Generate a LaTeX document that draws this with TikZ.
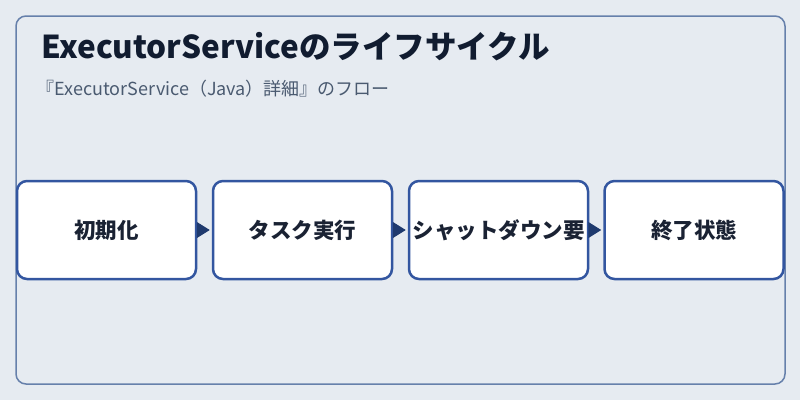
\documentclass[tikz,border=0pt]{standalone}
\usepackage{fontspec}
\setmainfont{Noto Sans CJK JP}
\usetikzlibrary{arrows.meta}
\definecolor{bgc}{HTML}{E6EBF1}
\definecolor{framec}{HTML}{6680AB}
\definecolor{boxc}{HTML}{3356A0}
\definecolor{arrowc}{HTML}{1F3A6E}
\definecolor{titlec}{HTML}{111C30}
\definecolor{subc}{HTML}{4A5A70}
\definecolor{textc}{HTML}{1A2233}
\tikzset{
  stepbox/.style={draw=boxc, line width=2.5pt, fill=white, rounded corners=10pt,
    minimum width=179pt, minimum height=98pt, inner sep=0pt,
    font=\bfseries\fontsize{21.5}{24}\selectfont, text=textc},
  flowarrow/.style={draw=arrowc, line width=1pt, shorten >=2pt,
    -{Triangle[length=13pt,width=16pt]}, arrowc}
}
\begin{document}
\begin{tikzpicture}[x=1pt,y=-1pt]
\fill[bgc] (0,0) rectangle (800,400);
\useasboundingbox (0,0) rectangle (800,400);
\draw[framec, line width=1.5pt, rounded corners=10pt] (16,16) rectangle (785,384);
\node[anchor=base west, inner sep=0pt, font=\bfseries\fontsize{31.5}{34}\selectfont, text=titlec] (title) at (41,58) {ExecutorServiceのライフサイクル};
\node[anchor=base west, inner sep=0pt, font=\fontsize{18}{20}\selectfont, text=subc] (sub) at (36.5,95) {『ExecutorService（Java）詳細』のフロー};
\node[stepbox] (b1) at (106.5,230) {\raisebox{-1.5pt}{初期化}};
\node[stepbox] (b2) at (302.5,230) {\raisebox{-1.5pt}{タスク実行}};
\node[stepbox] (b3) at (498.5,230) {\raisebox{-1.5pt}{シャットダウン要}};
\node[stepbox] (b4) at (694,230) {\raisebox{-1.5pt}{終了状態}};
\draw[flowarrow] (b1) -- (b2);
\draw[flowarrow] (b2) -- (b3);
\draw[flowarrow] (b3) -- (b4);
\end{tikzpicture}
\end{document}
